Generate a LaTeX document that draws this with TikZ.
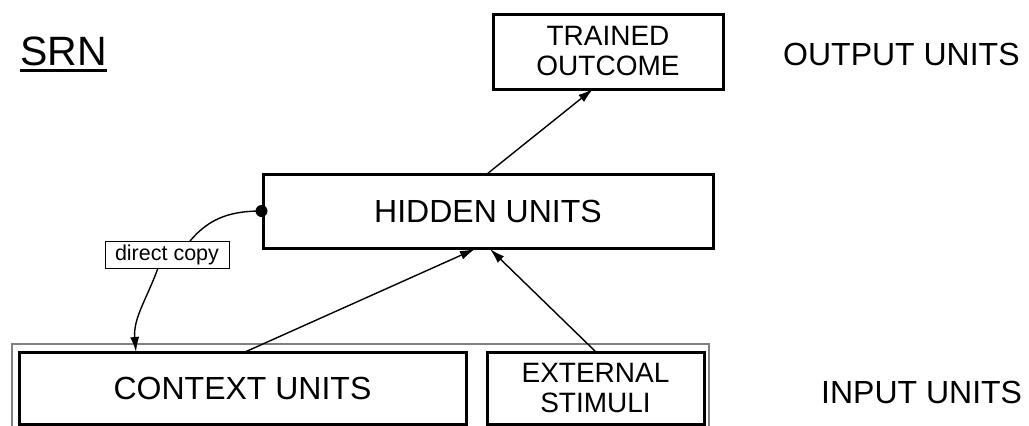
\documentclass[tikz,border=0pt]{standalone}
\usepackage{fontspec}
\setmainfont{Liberation Sans}
\usetikzlibrary{arrows.meta}
\tikzset{
  unitbox/.style={draw, line width=3pt, inner sep=0pt, align=center},
  conn/.style={line width=1.4pt, -{Latex[length=15pt,width=9pt]}},
  bigtxt/.style={font=\fontsize{32}{38}\selectfont},
  midtxt/.style={font=\fontsize{28}{30}\selectfont},
}
\begin{document}
\begin{tikzpicture}[x=1pt,y=-1pt]
\useasboundingbox (0,0) rectangle (1029,426);
% outer thin frame
\draw[line width=1.3pt, gray] (12,428) -- (12,344) -- (709,344) -- (709,428);
% boxes
\node[unitbox, bigtxt, minimum width=447pt, minimum height=72pt] (ctx) at (242.5,388) {CONTEXT UNITS};
\node[unitbox, midtxt, minimum width=217pt, minimum height=72pt] (ext) at (595.5,388) {EXTERNAL\\STIMULI};
\node[unitbox, bigtxt, minimum width=450pt, minimum height=74pt] (hid) at (488,211) {HIDDEN UNITS};
\node[unitbox, midtxt, minimum width=230pt, minimum height=75pt] (out) at (608,51.5) {TRAINED\\OUTCOME};
% labels
\node[anchor=base west, inner sep=0pt, font=\fontsize{41}{48}\selectfont] (srn) at (20,65) {SRN};
\draw[line width=3pt] ([yshift=-5pt]srn.base west) -- ([yshift=-5pt]srn.base east);
\node[anchor=base west, inner sep=0pt, bigtxt] (outl) at (783,65) {OUTPUT UNITS};
\node[anchor=base west, inner sep=0pt, bigtxt] (inl) at (821,403) {INPUT UNITS};
% direct copy
\node[draw, line width=1pt, inner sep=0pt, minimum width=124pt, minimum height=27pt, font=\fontsize{21.5}{24}\selectfont] (copy) at (167,254.5) {direct copy};
\coordinate (c1) at (190,241);
\coordinate (c2) at (158,268);
\coordinate (ctxin) at (136,352);
\draw[line width=1.4pt] (hid.west) to[out=180,in=50] (c1);
\draw[conn] (c2) to[out=-110,in=95] (ctxin);
\fill (hid.west) circle (6pt);
% connections
\coordinate (a1s) at (245,352);
\coordinate (a1e) at (475,249);
\coordinate (a2s) at (596,352);
\coordinate (a2e) at (490,249);
\coordinate (a3s) at (487,174);
\coordinate (a3e) at (593,89);
\draw[conn] (a1s) -- (a1e);
\draw[conn] (a2s) -- (a2e);
\draw[conn] (a3s) -- (a3e);
\end{tikzpicture}
\end{document}
